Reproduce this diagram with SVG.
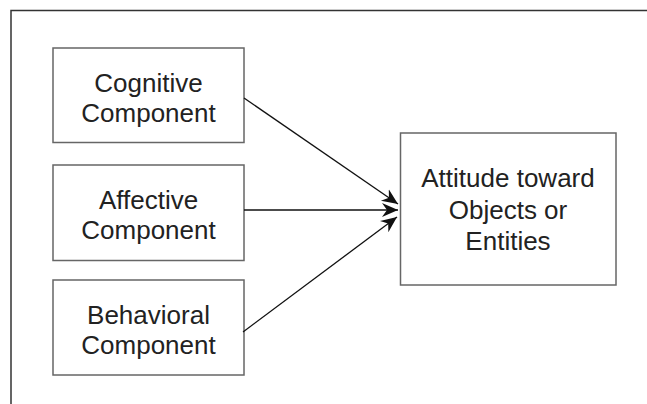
<svg xmlns="http://www.w3.org/2000/svg" width="647" height="404" viewBox="0 0 647 404">
<style>
.box{fill:#fff;stroke:#666;stroke-width:1.5}
.lbl{font-family:"Liberation Sans",Arial,Helvetica,sans-serif;font-size:26px;fill:#222;text-anchor:middle}
.frame{fill:none;stroke:#333;stroke-width:1.5}
.conn{stroke:#111;stroke-width:1.3;fill:none;marker-end:url(#arr)}
</style>
<defs>
<marker id="arr" markerUnits="userSpaceOnUse" markerWidth="20" markerHeight="16" refX="16" refY="8" orient="auto">
<path d="M0,1 L16,8 L0,15 L5,8 Z" fill="#111"/>
</marker>
</defs>
<rect width="647" height="404" fill="#fff"/>
<path class="frame" d="M11,404 V10.5 H647"/>
<g id="cognitive">
<rect class="box" x="53" y="48" width="191" height="94.5"/>
<text class="lbl" x="148.5" y="92">Cognitive</text>
<text class="lbl" x="148.5" y="122">Component</text>
</g>
<g id="affective">
<rect class="box" x="53" y="165" width="191" height="95.5"/>
<text class="lbl" x="148.5" y="209">Affective</text>
<text class="lbl" x="148.5" y="239">Component</text>
</g>
<g id="behavioral">
<rect class="box" x="53" y="280" width="191" height="95"/>
<text class="lbl" x="148.5" y="324">Behavioral</text>
<text class="lbl" x="148.5" y="354">Component</text>
</g>
<g id="attitude">
<rect class="box" x="400.5" y="133" width="215.5" height="152"/>
<text class="lbl" x="508" y="187">Attitude toward</text>
<text class="lbl" x="508" y="218.5">Objects or</text>
<text class="lbl" x="508" y="250">Entities</text>
</g>
<g id="connectors">
<line class="conn" x1="244" y1="98" x2="398" y2="204"/>
<line class="conn" x1="244" y1="210" x2="398" y2="210"/>
<line class="conn" x1="243" y1="332" x2="397" y2="217"/>
</g>
</svg>
